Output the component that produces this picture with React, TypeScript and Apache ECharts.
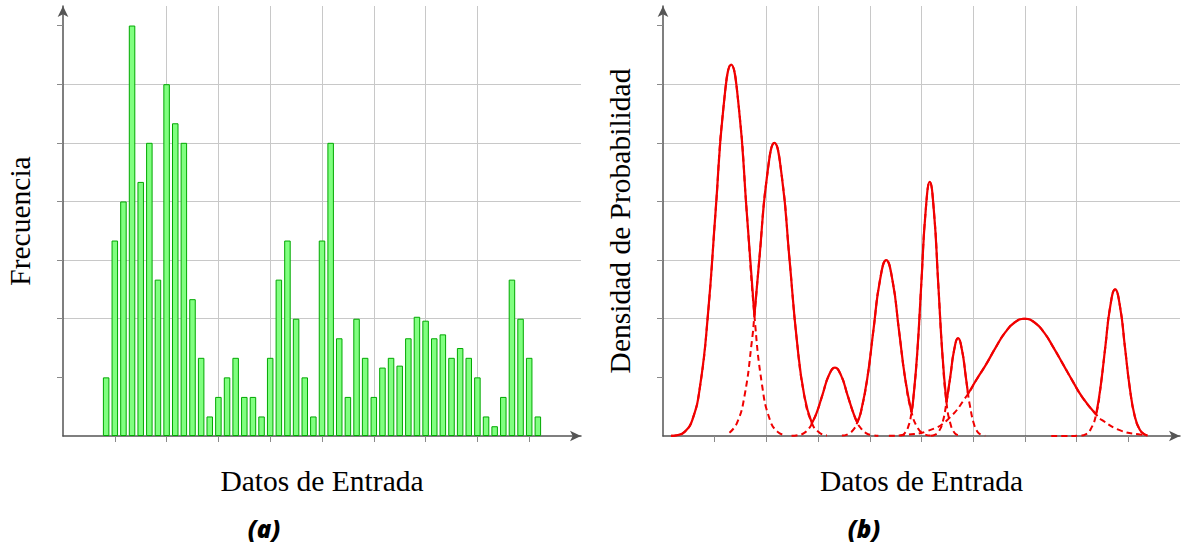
import { useEffect, useRef } from "react";
import * as echarts from "echarts";

// ---------- Chart (a): histogram ----------
const BIN_CENTERS = [
  0.833, 1.0, 1.167, 1.333, 1.5, 1.667, 1.833, 2.0, 2.167, 2.333, 2.5, 2.667,
  2.833, 3.0, 3.167, 3.333, 3.5, 3.667, 3.833, 4.0, 4.167, 4.333, 4.5, 4.667,
  4.833, 5.0, 5.167, 5.333, 5.5, 5.667, 5.833, 6.0, 6.167, 6.333, 6.5, 6.667,
  6.833, 7.0, 7.167, 7.333, 7.5, 7.667, 7.833, 8.0, 8.167, 8.333, 8.5, 8.667,
  8.833, 9.0, 9.167,
];
const FREQUENCIES = [
  3, 10, 12, 21, 13, 15, 8, 18, 16, 15, 7, 4, 1, 2, 3, 4, 2, 2, 1, 4, 8, 10, 6,
  3, 1, 10, 15, 5, 2, 6, 4, 2, 3.5, 4, 3.6, 5, 6.1, 5.9, 5, 5.2, 4, 4.5, 4, 3, 1,
  0.5, 2, 8, 6, 4, 1,
];

const X_TICKS = [1, 2, 3, 4, 5, 6, 7, 8, 9];
const Y_TICKS = [3, 6, 9, 12, 15, 18, 21];

// ---------- Chart (b): mixture components (x, density) ----------
const comp1 = [
  [0.154, 0.01], [0.268, 0.04], [0.418, 0.21], [0.568, 0.83], [0.718, 2.57],
  [0.868, 6.17], [1.018, 11.52], [1.168, 16.77], [1.318, 19.0], [1.468, 16.77],
  [1.618, 11.52], [1.768, 6.17], [1.918, 2.57], [2.068, 0.83], [2.218, 0.21],
  [2.368, 0.04],
];
const comp2 = [
  [1.285, 0.17], [1.43, 0.66], [1.575, 2.03], [1.72, 4.87], [1.768, 6.17],
  [1.865, 9.1], [2.01, 13.24], [2.155, 15.0], [2.3, 13.24], [2.445, 9.1],
  [2.59, 4.87], [2.735, 2.03], [2.88, 0.66], [3.025, 0.17], [3.17, 0.03],
];
const comp3 = [
  [2.486, 0.01], [2.606, 0.04], [2.726, 0.15], [2.846, 0.47], [2.88, 0.66],
  [2.966, 1.14], [3.086, 2.12], [3.206, 3.09], [3.326, 3.5], [3.446, 3.09],
  [3.566, 2.12], [3.686, 1.14], [3.757, 0.69], [3.806, 0.47], [3.926, 0.15],
  [4.046, 0.04], [4.166, 0.01],
];
const comp4 = [
  [3.46, 0.02], [3.582, 0.1], [3.705, 0.4], [3.757, 0.69], [3.827, 1.22],
  [3.95, 2.92], [4.072, 5.46], [4.195, 7.94], [4.317, 9.0], [4.44, 7.94],
  [4.562, 5.46], [4.685, 2.92], [4.807, 1.22], [4.93, 0.4], [5.052, 0.1],
  [5.175, 0.02],
];
const comp5 = [
  [4.593, 0.03], [4.674, 0.14], [4.755, 0.57], [4.807, 1.22], [4.836, 1.76],
  [4.917, 4.22], [4.998, 7.88], [5.079, 11.47], [5.16, 13.0], [5.241, 11.47],
  [5.322, 7.88], [5.403, 4.22], [5.483, 1.72], [5.565, 0.57], [5.646, 0.14],
  [5.727, 0.03],
];
const comp6 = [
  [5.182, 0.01], [5.257, 0.06], [5.332, 0.22], [5.407, 0.68], [5.483, 1.72],
  [5.557, 3.03], [5.632, 4.41], [5.707, 5.0], [5.782, 4.41], [5.857, 3.03],
  [5.9, 2.15], [5.932, 1.62], [6.007, 0.68], [6.082, 0.22], [6.157, 0.06],
  [6.232, 0.01],
];
const comp7 = [
  [4.369, 0.01], [4.744, 0.07], [5.119, 0.26], [5.494, 0.81], [5.9, 2.15],
  [6.056, 2.85], [6.244, 3.64], [6.431, 4.51], [6.619, 5.3], [6.806, 5.82],
  [6.994, 6.0], [7.181, 5.82], [7.369, 5.3], [7.556, 4.51], [7.744, 3.64],
  [7.931, 2.77], [8.119, 1.95], [8.378, 1.1], [8.494, 0.81], [8.869, 0.26],
  [9.244, 0.07], [9.37, 0.04],
];
const comp8 = [
  [7.51, 0.0], [7.8, 0.0], [8.08, 0.02], [8.175, 0.08], [8.27, 0.33],
  [8.378, 1.1], [8.46, 2.44], [8.555, 4.55], [8.65, 6.62], [8.745, 7.5],
  [8.84, 6.62], [8.935, 4.55], [9.03, 2.44], [9.125, 1.01], [9.22, 0.33],
  [9.315, 0.08], [9.37, 0.03],
];
// x positions where the upper envelope switches from one component to the next
const ENVELOPE_BREAKS = [0.154, 1.768, 2.88, 3.757, 4.807, 5.483, 5.9, 8.378, 9.37];

const SERIF = '"Liberation Serif", "Times New Roman", serif';

export default function App() {
  const ref = useRef<HTMLDivElement>(null);

  useEffect(() => {
    const chart = echarts.init(ref.current!, undefined, { renderer: "svg" });
    const components = [comp1, comp2, comp3, comp4, comp5, comp6, comp7, comp8];

    const axisLine = {
      show: true,
      symbol: ["none", "arrow"],
      symbolSize: [8, 11],
      lineStyle: { color: "#555555", width: 1.5 },
    };
    const splitLine = {
      show: true,
      showMinLine: false,
      showMaxLine: false,
      lineStyle: { color: "#c8c8c8", width: 1 },
    };
    const nameTextStyle = { fontFamily: SERIF, fontSize: 29.5, color: "#000" };

    const makeX = (gridIndex: number) => ({
      gridIndex,
      type: "value",
      min: 0,
      max: 10,
      interval: 1,
      axisLine,
      axisTick: {
        show: true,
        length: 6,
        customValues: X_TICKS,
        lineStyle: { color: "#8a8a8a", width: 1 },
      },
      axisLabel: { show: false },
      splitLine,
      name: "Datos de Entrada",
      nameLocation: "middle",
      nameGap: 30,
      nameTextStyle,
    });
    const makeY = (gridIndex: number, name: string) => ({
      gridIndex,
      type: "value",
      min: 0,
      max: 22,
      interval: 3,
      axisLine,
      axisTick: {
        show: true,
        length: 6,
        customValues: Y_TICKS,
        lineStyle: { color: "#8a8a8a", width: 1 },
      },
      axisLabel: { show: false },
      splitLine,
      name,
      nameLocation: "middle",
      nameRotate: 90,
      nameGap: 28,
      nameTextStyle,
    });

    const series: any[] = [
      {
        type: "bar",
        xAxisIndex: 0,
        yAxisIndex: 0,
        data: BIN_CENTERS.map((x, i) => [x, FREQUENCIES[i]]),
        barWidth: 6.5,
        itemStyle: { color: "#80ff80", borderColor: "#00a800", borderWidth: 1 },
      },
    ];

    components.forEach((pts, i) => {
      const lo = ENVELOPE_BREAKS[i];
      const hi = ENVELOPE_BREAKS[i + 1];
      series.push({
        type: "line",
        xAxisIndex: 1,
        yAxisIndex: 1,
        data: pts,
        smooth: true,
        symbol: "none",
        z: 2,
        lineStyle: { color: "#f00000", width: 2, type: [6, 4] },
      });
      series.push({
        type: "line",
        xAxisIndex: 1,
        yAxisIndex: 1,
        data: pts.filter((p) => p[0] >= lo - 1e-9 && p[0] <= hi + 1e-9),
        smooth: true,
        symbol: "none",
        z: 3,
        lineStyle: { color: "#f00000", width: 2.2 },
      });
    });

    const titleStyle = {
      fontFamily: '"Open Sans", sans-serif',
      fontSize: 24,
      fontWeight: 800,
      fontStyle: "italic",
      fill: "#000",
      align: "center",
      verticalAlign: "middle",
    };

    chart.setOption({
      animation: false,
      backgroundColor: "#ffffff",
      grid: [
        { left: 63, top: 6, width: 518, height: 430 },
        { left: 663, top: 6, width: 517, height: 430 },
      ],
      xAxis: [makeX(0), makeX(1)],
      yAxis: [makeY(0, "Frecuencia"), makeY(1, "Densidad de Probabilidad")],
      series,
      graphic: [
        { type: "text", x: 264, y: 528, style: { ...titleStyle, text: "(a)" } },
        { type: "text", x: 864, y: 528, style: { ...titleStyle, text: "(b)" } },
      ],
    });

    return () => chart.dispose();
  }, []);

  return (
    <div
      ref={ref}
      style={{
        position: "fixed",
        left: 0,
        top: 0,
        width: 1182,
        height: 545,
        background: "#fff",
      }}
    />
  );
}
